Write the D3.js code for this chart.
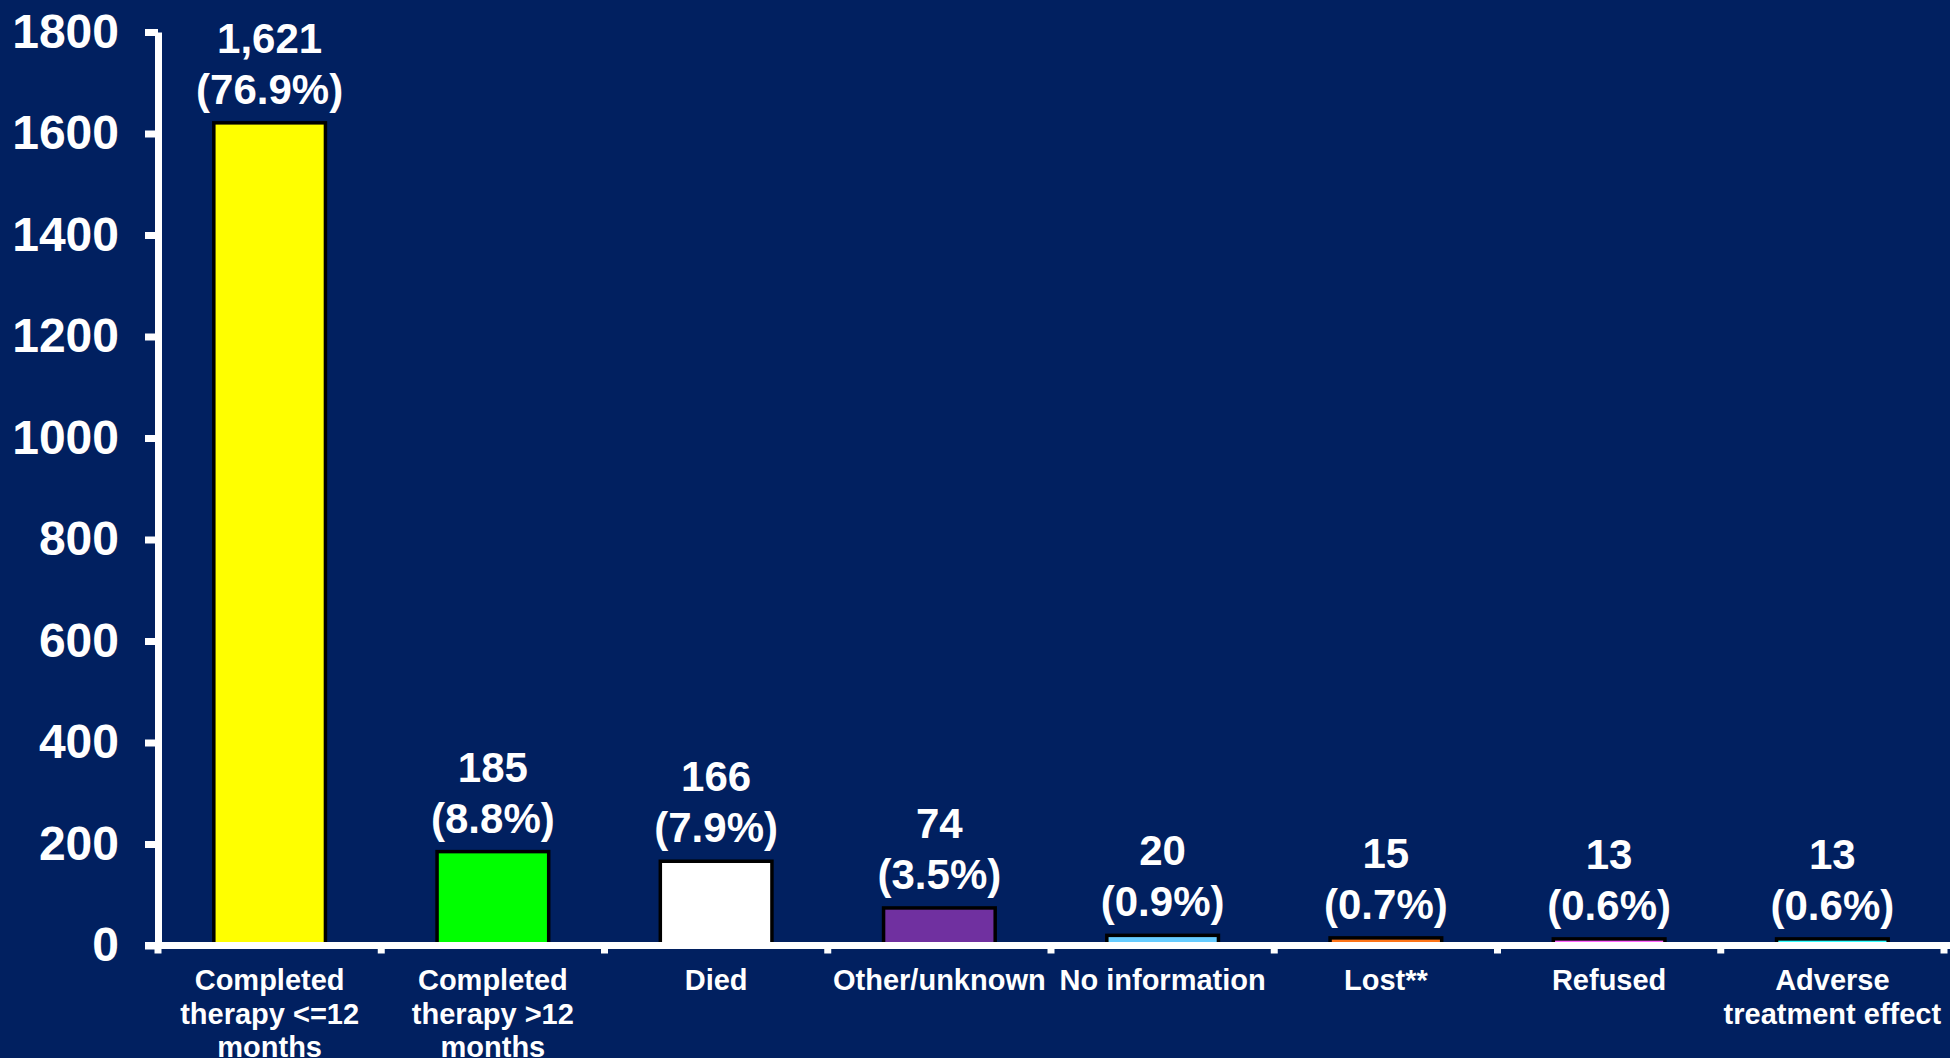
<!DOCTYPE html>
<html>
<head>
<meta charset="utf-8">
<script src="https://cdn.jsdelivr.net/npm/d3@7"></script>
<style>
  html, body { margin: 0; padding: 0; background: #012060; }
  svg { display: block; }
  text { font-family: "Liberation Sans", Arial, sans-serif; font-weight: bold; fill: #ffffff; }
</style>
</head>
<body>
<svg id="chart" width="1950" height="1058"></svg>
<script>
// Treatment outcome categories (line breaks mark label wrapping)
const categories = [
  "Completed\ntherapy <=12\nmonths",
  "Completed\ntherapy >12\nmonths",
  "Died",
  "Other/unknown",
  "No information",
  "Lost**",
  "Refused",
  "Adverse\ntreatment effect"
];
// Number of patients per outcome
const counts = [1621, 185, 166, 74, 20, 15, 13, 13];
// Share of all patients, percent
const percents = [76.9, 8.8, 7.9, 3.5, 0.9, 0.7, 0.6, 0.6];
// Fill colour per outcome
const barColors = ["#FFFF00", "#00FF00", "#FFFFFF", "#7030A0", "#66CCFF", "#FF7418", "#FF66FF", "#33FFFF"];
// Y axis ticks
const yTicks = [0, 200, 400, 600, 800, 1000, 1200, 1400, 1600, 1800];

const W = 1950, H = 1058;
const svg = d3.select("#chart");
svg.append("rect").attr("width", W).attr("height", H).attr("fill", "#012060");

const x0 = 158, x1 = 1944, yTop = 32, yZero = 945.5;

const x = d3.scaleBand()
  .domain(d3.range(categories.length))
  .range([x0, x1])
  .paddingInner(0.5)
  .paddingOuter(0.25);

const y = d3.scaleLinear().domain([0, 1800]).range([yZero, yTop]);

// Bars
svg.append("g").selectAll("rect")
  .data(counts)
  .join("rect")
  .attr("x", (d, i) => x(i))
  .attr("y", d => y(d))
  .attr("width", x.bandwidth())
  .attr("height", d => yZero - y(d))
  .attr("fill", (d, i) => barColors[i])
  .attr("stroke", "#000000")
  .attr("stroke-width", 3.5);

// Value labels: count and percentage on two lines
const fmt = d3.format(",");
const labels = svg.append("g").selectAll("text")
  .data(counts)
  .join("text")
  .attr("text-anchor", "middle")
  .attr("font-size", 42)
  .attr("x", (d, i) => x(i) + x.bandwidth() / 2);
labels.append("tspan")
  .attr("x", (d, i) => x(i) + x.bandwidth() / 2)
  .attr("y", d => y(d) - 70)
  .text(d => fmt(d));
labels.append("tspan")
  .attr("x", (d, i) => x(i) + x.bandwidth() / 2)
  .attr("y", d => y(d) - 19)
  .text((d, i) => "(" + percents[i].toFixed(1) + "%)");

// Y axis
const yAxis = d3.axisLeft(y)
  .tickValues(yTicks)
  .tickSizeInner(13)
  .tickSizeOuter(0)
  .tickPadding(26)
  .tickFormat(d3.format("d"));
const gy = svg.append("g").attr("transform", `translate(${x0},0)`).call(yAxis);
gy.select(".domain").attr("stroke", "#ffffff").attr("stroke-width", 7);
gy.selectAll(".tick line").attr("stroke", "#ffffff").attr("stroke-width", 7);
gy.selectAll(".tick text")
  .attr("fill", "#ffffff")
  .attr("font-size", 48)
  .attr("font-family", "Liberation Sans, Arial, sans-serif")
  .attr("font-weight", "bold");

// X axis: baseline with ticks on category boundaries
const bounds = d3.range(categories.length + 1).map(i =>
  i < categories.length ? x(i) - x.step() * x.paddingOuter() : x1);
const gx = svg.append("g");
gx.append("line")
  .attr("x1", x0 - 13).attr("x2", W)
  .attr("y1", yZero).attr("y2", yZero)
  .attr("stroke", "#ffffff").attr("stroke-width", 7);
gx.selectAll("line.tk")
  .data(bounds)
  .join("line")
  .attr("class", "tk")
  .attr("x1", d => d).attr("x2", d => d)
  .attr("y1", yZero).attr("y2", yZero + 8)
  .attr("stroke", "#ffffff").attr("stroke-width", 7);

// Category labels
const cat = svg.append("g").selectAll("text")
  .data(categories)
  .join("text")
  .attr("text-anchor", "middle")
  .attr("font-size", 29);
cat.each(function (d, i) {
  const cx = x(i) + x.bandwidth() / 2;
  d3.select(this).selectAll("tspan")
    .data(d.split("\n"))
    .join("tspan")
    .attr("x", cx)
    .attr("y", (s, k) => 990 + k * 33.5)
    .text(s => s);
});
</script>
</body>
</html>
